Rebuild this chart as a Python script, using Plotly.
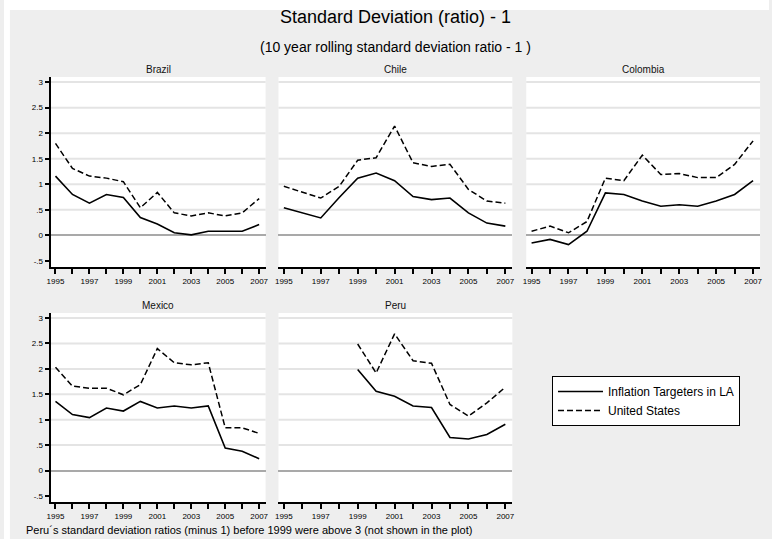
import plotly.graph_objects as go

# ---- data -------------------------------------------------------------
YEARS = list(range(1995, 2008))
PERU_YEARS = list(range(1999, 2008))

brazil_it = [1.16, 0.80, 0.63, 0.80, 0.74, 0.35, 0.22, 0.05, 0.01, 0.08, 0.08, 0.08, 0.21]
brazil_us = [1.80, 1.31, 1.16, 1.12, 1.05, 0.54, 0.84, 0.44, 0.38, 0.44, 0.38, 0.44, 0.72]

chile_it = [0.54, 0.44, 0.34, 0.74, 1.12, 1.22, 1.07, 0.76, 0.70, 0.73, 0.44, 0.24, 0.18]
chile_us = [0.96, 0.84, 0.73, 0.96, 1.47, 1.52, 2.14, 1.42, 1.35, 1.39, 0.90, 0.67, 0.63]

colombia_it = [-0.15, -0.08, -0.18, 0.08, 0.83, 0.80, 0.67, 0.57, 0.60, 0.57, 0.67, 0.80, 1.07]
colombia_us = [0.08, 0.18, 0.05, 0.27, 1.12, 1.07, 1.57, 1.19, 1.21, 1.13, 1.13, 1.39, 1.85]

mexico_it = [1.36, 1.10, 1.04, 1.23, 1.17, 1.36, 1.23, 1.27, 1.23, 1.27, 0.44, 0.38, 0.23]
mexico_us = [2.03, 1.66, 1.62, 1.62, 1.49, 1.69, 2.40, 2.12, 2.08, 2.12, 0.84, 0.84, 0.73]

peru_it = [1.99, 1.56, 1.46, 1.27, 1.24, 0.65, 0.62, 0.71, 0.91]
peru_us = [2.49, 1.92, 2.69, 2.16, 2.11, 1.30, 1.07, 1.33, 1.64]

Y_TICKS = [-0.5, 0, 0.5, 1, 1.5, 2, 2.5, 3]
Y_TICK_TEXT = ["-.5", "0", ".5", "1", "1.5", "2", "2.5", "3"]
GRID_LEVELS = [0.5, 1, 1.5, 2, 2.5, 3]
X_TICK_TEXT = [str(y) if (y - 1995) % 2 == 0 else "" for y in YEARS]

SERIES_NAMES = ["Inflation Targeters in LA", "United States"]

panels = [
    # name, years, IT series, US series, column, row
    ("Brazil", YEARS, brazil_it, brazil_us, 0, 0),
    ("Chile", YEARS, chile_it, chile_us, 1, 0),
    ("Colombia", YEARS, colombia_it, colombia_us, 2, 0),
    ("Mexico", YEARS, mexico_it, mexico_us, 0, 1),
    ("Peru", PERU_YEARS, peru_it, peru_us, 1, 1),
]

# ---- layout geometry (pixels of a 772 x 539 page) --------------------
W, H = 772, 539
COLS = [(47, 264), (277, 513), (527, 763)]
ROWS = [(77, 267), (313, 502)]
TITLE_Y = [69, 305]

FONT = "Liberation Sans, Arial, sans-serif"
BG = "#eeeeee"

fig = go.Figure()
shapes = []
annotations = []
layout_axes = {}

for i, (name, yrs, it_vals, us_vals, col, row) in enumerate(panels):
    n = i + 1
    xa = "x" if n == 1 else f"x{n}"
    ya = "y" if n == 1 else f"y{n}"

    fig.add_trace(go.Scatter(
        x=yrs, y=it_vals, mode="lines", name=SERIES_NAMES[0],
        line=dict(color="black", width=1.6),
        xaxis=xa, yaxis=ya, showlegend=(n == 1), legendrank=1,
    ))
    fig.add_trace(go.Scatter(
        x=yrs, y=us_vals, mode="lines", name=SERIES_NAMES[1],
        line=dict(color="black", width=1.5, dash="6px,3px"),
        xaxis=xa, yaxis=ya, showlegend=(n == 1), legendrank=2,
    ))

    x0, x1 = COLS[col]
    y0, y1 = ROWS[row]
    first_col = col == 0

    layout_axes["xaxis" if n == 1 else f"xaxis{n}"] = dict(
        domain=[x0 / W, x1 / W],
        range=[1994.71, 2007.38],
        anchor=ya,
        tickvals=YEARS, ticktext=X_TICK_TEXT,
        ticks="outside", ticklen=5, tickwidth=1.5, tickcolor="black",
        showline=True, linecolor="black", linewidth=2,
        showgrid=False, zeroline=False,
        tickfont=dict(family=FONT, size=8, color="black"),
    )
    layout_axes["yaxis" if n == 1 else f"yaxis{n}"] = dict(
        domain=[1 - y1 / H, 1 - y0 / H],
        range=[-0.62, 3.1],
        anchor=xa,
        tickvals=Y_TICKS, ticktext=Y_TICK_TEXT,
        ticks="outside" if first_col else "",
        ticklen=4, tickwidth=1.5, tickcolor="black",
        showticklabels=first_col,
        showline=first_col, linecolor="black", linewidth=2,
        showgrid=False,
        zeroline=True, zerolinecolor="#a9a9a9", zerolinewidth=2,
        tickfont=dict(family=FONT, size=8, color="black"),
    )

    for g in GRID_LEVELS:
        shapes.append(dict(
            type="line", xref=f"{xa} domain", yref=ya,
            x0=0, x1=1, y0=g, y1=g, layer="below",
            line=dict(color="#e4e4e4", width=2),
        ))

    annotations.append(dict(
        text=name, x=(x0 + x1) / 2 / W, y=1 - TITLE_Y[row] / H,
        xref="paper", yref="paper", showarrow=False,
        xanchor="center", yanchor="middle",
        font=dict(family=FONT, size=10, color="#111111"),
    ))

# white page margin along the top and left edges
shapes.append(dict(type="rect", xref="paper", yref="paper",
                   x0=0, x1=1, y0=1 - 10 / H, y1=1,
                   fillcolor="white", line=dict(width=0), layer="below"))
shapes.append(dict(type="rect", xref="paper", yref="paper",
                   x0=0, x1=6 / W, y0=0, y1=1,
                   fillcolor="white", line=dict(width=0), layer="below"))

annotations += [
    dict(text="Standard Deviation (ratio) - 1",
         x=395 / W, y=1 - 17 / H, xref="paper", yref="paper",
         showarrow=False, xanchor="center", yanchor="middle",
         font=dict(family=FONT, size=18, color="black")),
    dict(text="(10 year rolling standard deviation ratio - 1 )",
         x=395 / W, y=1 - 47 / H, xref="paper", yref="paper",
         showarrow=False, xanchor="center", yanchor="middle",
         font=dict(family=FONT, size=14, color="black")),
    dict(text="Peru´s standard deviation ratios (minus 1) before 1999 were above 3 (not shown in the plot)",
         x=20 / W, y=1 - 530 / H, xref="paper", yref="paper",
         showarrow=False, xanchor="left", yanchor="middle",
         font=dict(family=FONT, size=11, color="black")),
]

fig.update_layout(
    width=W, height=H,
    margin=dict(l=0, r=0, t=0, b=0),
    paper_bgcolor=BG, plot_bgcolor="white",
    shapes=shapes, annotations=annotations,
    legend=dict(
        x=553 / W, y=1 - 376 / H, xanchor="left", yanchor="top",
        bgcolor="white", bordercolor="black", borderwidth=1,
        font=dict(family=FONT, size=12, color="black"),
        itemwidth=45, tracegroupgap=0,
    ),
    **layout_axes,
)

fig.write_html("out.html")
